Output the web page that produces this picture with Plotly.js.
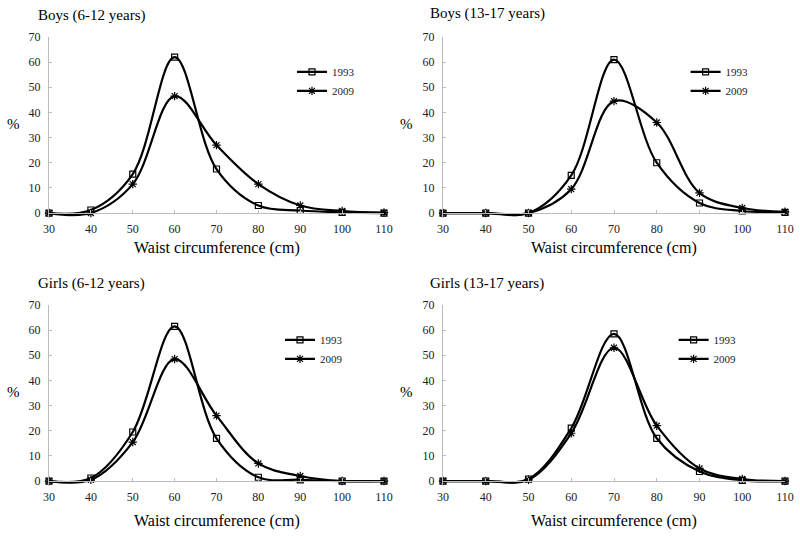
<!DOCTYPE html>
<html>
<head>
<meta charset="utf-8">
<script src="https://cdn.plot.ly/plotly-3.0.1.min.js"></script>
<style>html,body{margin:0;padding:0;background:#fff;}#chart{width:800px;height:536px;}</style>
</head>
<body>
<div id="chart"></div>
<script>
var waist = [30, 40, 50, 60, 70, 80, 90, 100, 110];
var panelTitles = ["Boys (6-12 years)", "Boys (13-17 years)", "Girls (6-12 years)", "Girls (13-17 years)"];
var seriesNames = ["1993", "2009"];
var boys612_1993 = [0, 1.2, 15.5, 62, 17.5, 3, 1, 0.3, 0];
var boys612_2009 = [0, 0, 11.5, 46.5, 27, 11.5, 3, 0.8, 0.2];
var boys1317_1993 = [0, 0, 0, 15, 61, 20, 4, 0.8, 0.3];
var boys1317_2009 = [0, 0, 0, 9.5, 44.5, 36, 8, 2, 0.5];
var girls612_1993 = [0, 1.2, 19.5, 61.5, 17, 1.5, 0.5, 0, 0];
var girls612_2009 = [0, 0.5, 15.5, 48.5, 26, 7, 2, 0, 0];
var girls1317_1993 = [0, 0, 0.8, 21, 58.5, 17, 3.8, 0.3, 0];
var girls1317_2009 = [0, 0, 0.5, 19, 53, 22, 5, 0.8, 0];
var xTicks = [30, 40, 50, 60, 70, 80, 90, 100, 110];
var yTicks = [0, 10, 20, 30, 40, 50, 60, 70];

var panels = [
  [boys612_1993, boys612_2009],
  [boys1317_1993, boys1317_2009],
  [girls612_1993, girls612_2009],
  [girls1317_1993, girls1317_2009]
];

var serif = "Liberation Serif";
var xDom = [[0.06125, 0.48], [0.55375, 0.98125], [0.06125, 0.48], [0.55375, 0.98125]];
var yDom = [[0.5955, 0.9310], [0.5955, 0.9310], [0.0955, 0.4310], [0.0955, 0.4310]];
var xPos = [0.6026, 0.6026, 0.1026, 0.1026];
var legX = [0.365, 0.857, 0.35, 0.842];
var legY = [0.893, 0.893, 0.393, 0.393];
var titleX = [0.045, 0.535, 0.045, 0.535];
var titleY = [0.972, 0.974, 0.472, 0.472];
var xtitleY = [0.537, 0.537, 0.028, 0.028];

var data = [];
var layout = {
  width: 800, height: 536,
  margin: {l: 0, r: 0, t: 0, b: 0},
  paper_bgcolor: "#fff", plot_bgcolor: "#fff",
  showlegend: true,
  font: {family: serif, color: "#000"},
  annotations: []
};

var symbols = ["square-open", "asterisk-open"];
var sizes = [6, 7];

for (var p = 0; p < 4; p++) {
  var sfx = p === 0 ? "" : String(p + 1);
  var legName = "legend" + sfx;
  for (var s = 0; s < 2; s++) {
    data.push({
      x: waist, y: panels[p][s], name: seriesNames[s],
      type: "scatter", mode: "lines+markers",
      xaxis: "x" + sfx, yaxis: "y" + sfx,
      legend: legName,
      cliponaxis: false,
      line: {color: "#000", width: 2.2, shape: "spline", smoothing: 1},
      marker: {symbol: symbols[s], size: sizes[s], color: "#000", line: {color: "#000", width: 1.2}}
    });
  }
  layout["xaxis" + sfx] = {
    domain: xDom[p], range: [30, 110], anchor: "free", position: xPos[p],
    tickvals: xTicks, ticktext: xTicks.map(String),
    showgrid: false, zeroline: false, showline: true, linecolor: "#bbb", linewidth: 1,
    ticks: "inside", ticklen: 3, tickcolor: "#bbb",
    tickfont: {family: serif, size: 12, color: "#222"},
    ticklabelstandoff: 5, fixedrange: true
  };
  layout["yaxis" + sfx] = {
    domain: yDom[p], range: [-1.5, 70], anchor: "x" + sfx,
    tickvals: yTicks, ticktext: yTicks.map(String),
    showgrid: false, zeroline: false, showline: true, linecolor: "#bbb", linewidth: 1,
    ticks: "inside", ticklen: 3, tickcolor: "#bbb",
    tickfont: {family: serif, size: 12, color: "#222"},
    ticklabelstandoff: 5, fixedrange: true
  };
  layout[legName] = {
    x: legX[p], y: legY[p], xanchor: "left", yanchor: "top",
    bgcolor: "rgba(0,0,0,0)", borderwidth: 0,
    font: {family: serif, size: 11, color: "#222"},
    itemwidth: 30, tracegroupgap: 0
  };
  layout.annotations.push({
    text: panelTitles[p], xref: "paper", yref: "paper", x: titleX[p], y: titleY[p],
    xanchor: "left", yanchor: "middle", showarrow: false,
    font: {family: serif, size: 15, color: "#000"}
  });
  layout.annotations.push({
    text: "Waist circumference (cm)", xref: "paper", yref: "paper",
    x: (xDom[p][0] + xDom[p][1]) / 2, y: xtitleY[p],
    xanchor: "center", yanchor: "middle", showarrow: false,
    font: {family: serif, size: 16, color: "#000"}
  });
  layout.annotations.push({
    text: "%", xref: "paper", yref: "paper",
    x: xDom[p][0] - 0.045, y: (yDom[p][0] + yDom[p][1]) / 2 + 0.005,
    xanchor: "center", yanchor: "middle", showarrow: false,
    font: {family: serif, size: 15, color: "#000"}
  });
}

Plotly.newPlot("chart", data, layout, {displayModeBar: false, staticPlot: true});
</script>
</body>
</html>
